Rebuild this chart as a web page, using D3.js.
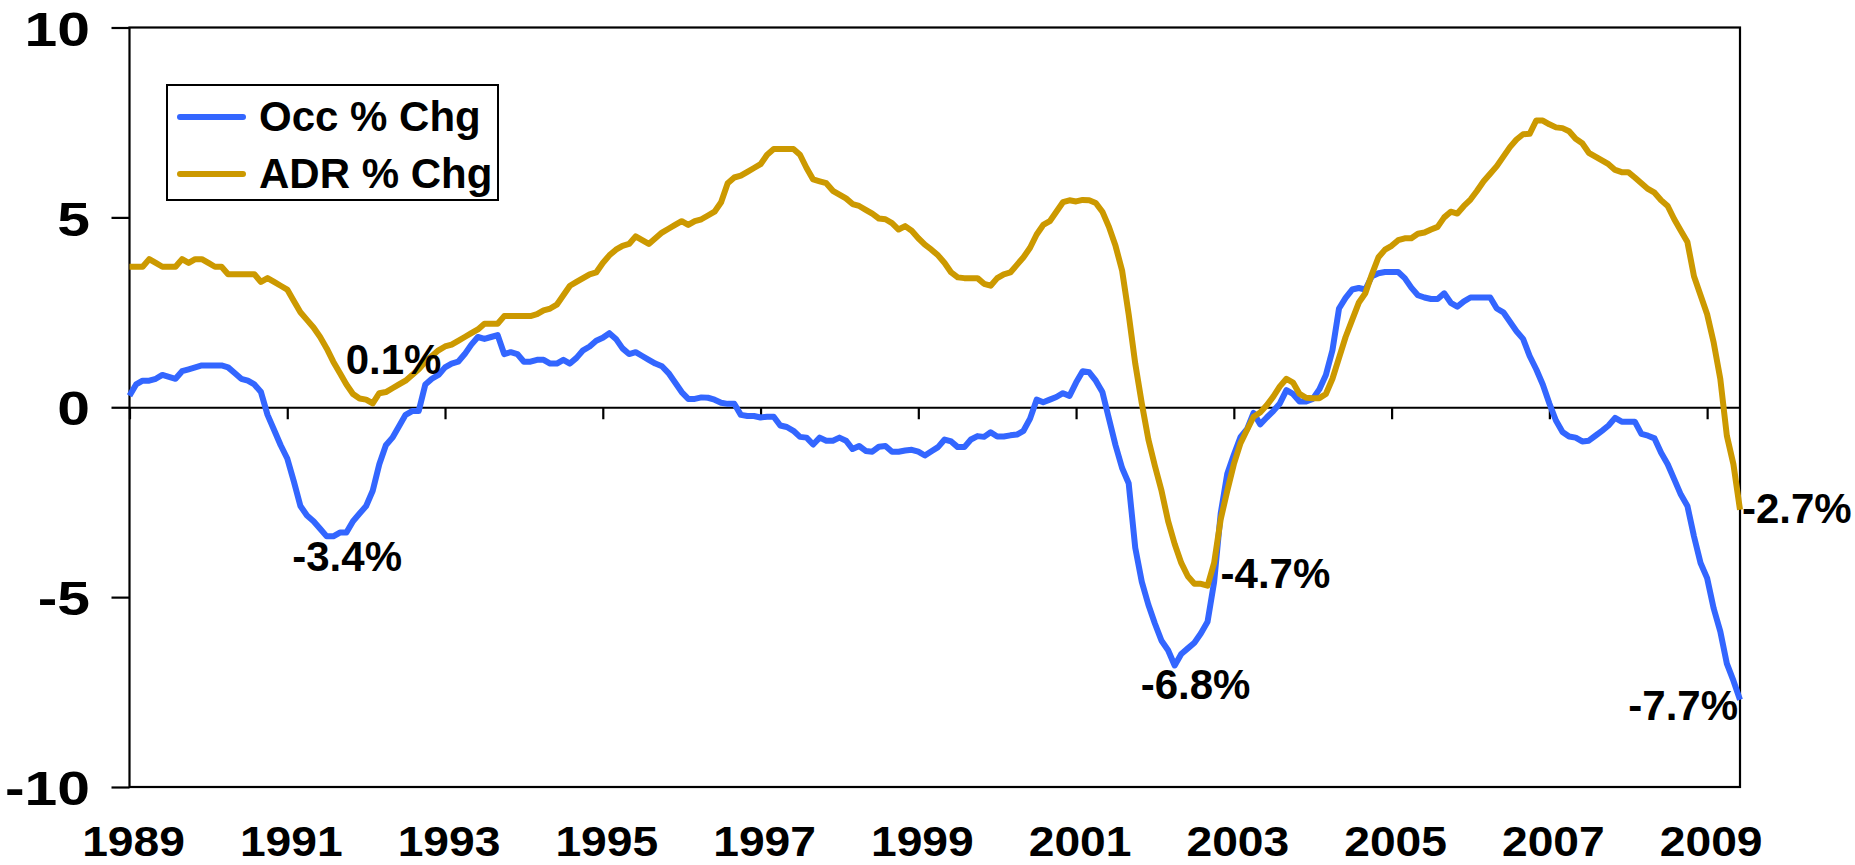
<!DOCTYPE html>
<html>
<head>
<meta charset="utf-8">
<script src="https://cdn.jsdelivr.net/npm/d3@7"></script>
<style>
  body { margin: 0; background: #fff; }
  text { font-family: "Liberation Sans", Arial, sans-serif; font-weight: bold; fill: #000; }
</style>
</head>
<body>
<div id="vis"></div>
<script>
// monthly 12-month % change, Jan 1989 .. Jun 2009
const START_YEAR = 1989;
const TICK_LABELS = ["1989", "1991", "1993", "1995", "1997", "1999",
                     "2001", "2003", "2005", "2007", "2009"];
const Y_TICKS = [10, 5, 0, -5, -10];
const SERIES_NAMES = ["Occ % Chg", "ADR % Chg"];
const SERIES_COLORS = ["#3366ff", "#cc9900"];

const OCC_CHG = [
  0.3, 0.6, 0.7, 0.7, 0.75, 0.85, 0.8, 0.75, 0.95, 1.0, 1.05, 1.1,            // 1989
  1.1, 1.1, 1.1, 1.05, 0.9, 0.75, 0.7, 0.6, 0.4, -0.2, -0.6, -1.0,            // 1990
  -1.35, -1.95, -2.6, -2.85, -3.0, -3.2, -3.4, -3.4, -3.3, -3.3, -3.0, -2.8,  // 1991
  -2.6, -2.2, -1.5, -1.0, -0.8, -0.5, -0.2, -0.1, -0.1, 0.6, 0.75, 0.85,      // 1992
  1.05, 1.15, 1.2, 1.4, 1.65, 1.85, 1.8, 1.85, 1.9, 1.4, 1.45, 1.4,           // 1993
  1.2, 1.2, 1.25, 1.25, 1.15, 1.15, 1.25, 1.15, 1.3, 1.5, 1.6, 1.75,          // 1994
  1.83, 1.95, 1.8, 1.55, 1.4, 1.45, 1.35, 1.25, 1.15, 1.08, 0.9, 0.65,        // 1995
  0.4, 0.22, 0.22, 0.26, 0.25, 0.2, 0.12, 0.09, 0.09, -0.2, -0.23, -0.23,     // 1996
  -0.27, -0.25, -0.25, -0.48, -0.52, -0.62, -0.78, -0.8, -0.98, -0.8, -0.88, -0.88,   // 1997
  -0.8, -0.88, -1.1, -1.02, -1.15, -1.17, -1.04, -1.02, -1.17, -1.17, -1.14, -1.12,   // 1998
  -1.17, -1.27, -1.16, -1.05, -0.85, -0.9, -1.05, -1.05, -0.85, -0.76, -0.78, -0.66,  // 1999
  -0.77, -0.77, -0.74, -0.72, -0.62, -0.3, 0.2, 0.13, 0.2, 0.27, 0.37, 0.3,   // 2000
  0.65, 0.95, 0.92, 0.7, 0.4, -0.3, -1.0, -1.6, -2.0, -3.7, -4.6, -5.2,       // 2001
  -5.7, -6.15, -6.4, -6.8, -6.5, -6.35, -6.2, -5.95, -5.65, -4.6, -2.8, -1.75, // 2002
  -1.25, -0.79, -0.58, -0.15, -0.45, -0.27, -0.1, 0.1, 0.45, 0.35, 0.15, 0.15, // 2003
  0.22, 0.47, 0.85, 1.5, 2.6, 2.88, 3.1, 3.14, 3.1, 3.45, 3.53, 3.56,         // 2004
  3.56, 3.56, 3.4, 3.15, 2.95, 2.89, 2.85, 2.85, 3.0, 2.75, 2.65, 2.79,       // 2005
  2.89, 2.89, 2.89, 2.89, 2.6, 2.5, 2.25, 2.0, 1.8, 1.35, 1.0, 0.6,           // 2006
  0.1, -0.35, -0.65, -0.77, -0.8, -0.9, -0.88, -0.75, -0.62, -0.48, -0.28, -0.38,     // 2007
  -0.38, -0.38, -0.7, -0.75, -0.82, -1.2, -1.5, -1.9, -2.3, -2.6, -3.4, -4.1, // 2008
  -4.5, -5.3, -5.9, -6.75, -7.2, -7.7                                          // 2009
];

const ADR_CHG = [
  3.7, 3.7, 3.7, 3.9, 3.8, 3.7, 3.7, 3.7, 3.9, 3.8, 3.9, 3.9,                 // 1989
  3.8, 3.7, 3.7, 3.5, 3.5, 3.5, 3.5, 3.5, 3.3, 3.4, 3.3, 3.2,                 // 1990
  3.1, 2.8, 2.5, 2.3, 2.1, 1.85, 1.55, 1.2, 0.9, 0.6, 0.35, 0.23,             // 1991
  0.2, 0.1, 0.37, 0.4, 0.5, 0.6, 0.7, 0.85, 1.0, 1.2, 1.35, 1.5,              // 1992
  1.6, 1.65, 1.75, 1.85, 1.95, 2.05, 2.2, 2.2, 2.2, 2.4, 2.4, 2.4,            // 1993
  2.4, 2.4, 2.45, 2.55, 2.6, 2.7, 2.95, 3.2, 3.3, 3.4, 3.5, 3.55,             // 1994
  3.8, 4.0, 4.15, 4.25, 4.3, 4.5, 4.4, 4.3, 4.45, 4.6, 4.7, 4.8,              // 1995
  4.9, 4.8, 4.9, 4.95, 5.05, 5.15, 5.4, 5.9, 6.05, 6.1, 6.2, 6.3,             // 1996
  6.4, 6.65, 6.8, 6.8, 6.8, 6.8, 6.65, 6.3, 6.0, 5.95, 5.9, 5.7,              // 1997
  5.6, 5.5, 5.35, 5.3, 5.2, 5.1, 4.97, 4.95, 4.85, 4.68, 4.77, 4.65,          // 1998
  4.45, 4.28, 4.15, 4.0, 3.8, 3.55, 3.42, 3.4, 3.4, 3.4, 3.25, 3.2,           // 1999
  3.4, 3.5, 3.55, 3.75, 3.95, 4.2, 4.55, 4.8, 4.9, 5.15, 5.4, 5.45,           // 2000
  5.42, 5.46, 5.45, 5.38, 5.15, 4.75, 4.25, 3.6, 2.45, 1.15, 0.1, -0.85,      // 2001
  -1.55, -2.2, -3.0, -3.6, -4.1, -4.45, -4.65, -4.65, -4.7, -4.1, -2.95, -2.2, // 2002
  -1.5, -0.95, -0.6, -0.25, -0.14, 0.05, 0.28, 0.55, 0.75, 0.65, 0.35, 0.25,  // 2003
  0.24, 0.24, 0.35, 0.75, 1.3, 1.85, 2.3, 2.75, 3.0, 3.5, 3.95, 4.15,         // 2004
  4.25, 4.4, 4.45, 4.45, 4.57, 4.6, 4.68, 4.75, 5.0, 5.15, 5.1, 5.3,          // 2005
  5.47, 5.7, 5.95, 6.15, 6.35, 6.6, 6.85, 7.05, 7.19, 7.2, 7.55, 7.55,        // 2006
  7.45, 7.37, 7.35, 7.27, 7.07, 6.95, 6.7, 6.6, 6.5, 6.4, 6.25, 6.19,         // 2007
  6.19, 6.05, 5.9, 5.75, 5.65, 5.45, 5.3, 4.95, 4.65, 4.35, 3.45, 2.95,       // 2008
  2.45, 1.7, 0.75, -0.75, -1.5, -2.7                                           // 2009
];

// [series, month index] of the points that get a value label
const CALLOUT_POINTS = [[1, 37], [0, 31], [1, 164], [0, 159], [0, 245], [1, 245]];
// label placement relative to its point
const CALLOUT_STYLE = [
  {dx: -27, dy: -29, anchor: "start"},
  {dx: -41, dy: 35, anchor: "start"},
  {dx: 13, dy: 2, anchor: "start"},
  {dx: -34, dy: 34, anchor: "start"},
  {dx: -2, dy: 20, anchor: "end"},
  {dx: 2, dy: 13, anchor: "start"}
];

const FRAME_WIDTH = 1855;
const FRAME_HEIGHT = 865;
const MARGINS = {left: 129.5, right: 115, top: 27.5, bottom: 78};

const SERIES = [OCC_CHG, ADR_CHG];
const N_MONTHS = OCC_CHG.length;

const FRAME = d3.select("#vis")
  .append("svg")
    .attr("width", FRAME_WIDTH)
    .attr("height", FRAME_HEIGHT);

const X_SCALE = d3.scaleLinear()
  .domain([0, N_MONTHS - 1])
  .range([MARGINS.left, FRAME_WIDTH - MARGINS.right]);

const Y_SCALE = d3.scaleLinear()
  .domain([-10, 10])
  .range([FRAME_HEIGHT - MARGINS.bottom, MARGINS.top]);

const yearToMonth = (label) => (parseInt(label) - START_YEAR) * 12;

// plot box
FRAME.append("rect")
  .attr("x", X_SCALE.range()[0])
  .attr("y", Y_SCALE.range()[1])
  .attr("width", X_SCALE.range()[1] - X_SCALE.range()[0])
  .attr("height", Y_SCALE.range()[0] - Y_SCALE.range()[1])
  .attr("fill", "none")
  .attr("stroke", "#000")
  .attr("stroke-width", 2.2);

// y axis, ticks outside the box
const yAxis = FRAME.append("g")
  .attr("transform", `translate(${MARGINS.left},0)`)
  .call(d3.axisLeft(Y_SCALE).tickValues(Y_TICKS).tickSize(18).tickFormat((d) => String(d)));
yAxis.select(".domain").remove();
yAxis.selectAll("line").attr("stroke", "#000").attr("stroke-width", 2.2);
yAxis.selectAll("text")
  .attr("x", null)
  .attr("dy", "0.36em")
  .attr("transform", "translate(-39.5,0) scale(1.2,1)")
  .style("font-size", "49px")
  .attr("text-anchor", "end");

// zero line with year ticks hanging below it
const xAxis = FRAME.append("g")
  .attr("transform", `translate(0,${Y_SCALE(0)})`)
  .call(d3.axisBottom(X_SCALE)
    .tickValues(TICK_LABELS.map(yearToMonth))
    .tickSize(12)
    .tickSizeOuter(0)
    .tickFormat(""));
xAxis.select(".domain").attr("stroke", "#000").attr("stroke-width", 2.2);
xAxis.selectAll("line").attr("stroke", "#000").attr("stroke-width", 2.2);

// year labels under the plot
FRAME.append("g")
  .selectAll("text")
  .data(TICK_LABELS)
  .enter()
  .append("text")
    .attr("text-anchor", "middle")
    .attr("transform", (d) => `translate(${X_SCALE(yearToMonth(d)) + 4},856) scale(1.1,1)`)
    .style("font-size", "42px")
    .text((d) => d);

// lines
const line = d3.line()
  .x((d, i) => X_SCALE(i))
  .y((d) => Y_SCALE(d));

FRAME.append("g")
  .selectAll("path")
  .data(SERIES)
  .enter()
  .append("path")
    .attr("d", line)
    .attr("fill", "none")
    .attr("stroke", (d, i) => SERIES_COLORS[i])
    .attr("stroke-width", 6)
    .attr("stroke-linejoin", "round");

// value callouts
FRAME.append("g")
  .selectAll("text")
  .data(CALLOUT_POINTS)
  .enter()
  .append("text")
    .attr("x", (d, i) => X_SCALE(d[1]) + CALLOUT_STYLE[i].dx)
    .attr("y", (d, i) => Y_SCALE(SERIES[d[0]][d[1]]) + CALLOUT_STYLE[i].dy)
    .attr("text-anchor", (d, i) => CALLOUT_STYLE[i].anchor)
    .style("font-size", "42px")
    .text((d) => SERIES[d[0]][d[1]].toFixed(1) + "%");

// legend
const legend = FRAME.append("g").attr("transform", "translate(167,85)");
legend.append("rect")
  .attr("width", 331)
  .attr("height", 115)
  .attr("fill", "#fff")
  .attr("stroke", "#000")
  .attr("stroke-width", 2);
SERIES_NAMES.forEach((name, i) => {
  const yy = 32 + i * 57;
  legend.append("line")
    .attr("x1", 13).attr("x2", 76)
    .attr("y1", yy).attr("y2", yy)
    .attr("stroke", SERIES_COLORS[i])
    .attr("stroke-width", 6)
    .attr("stroke-linecap", "round");
  legend.append("text")
    .attr("x", 92)
    .attr("y", yy + 14)
    .style("font-size", "42px")
    .text(name);
});
</script>
</body>
</html>
